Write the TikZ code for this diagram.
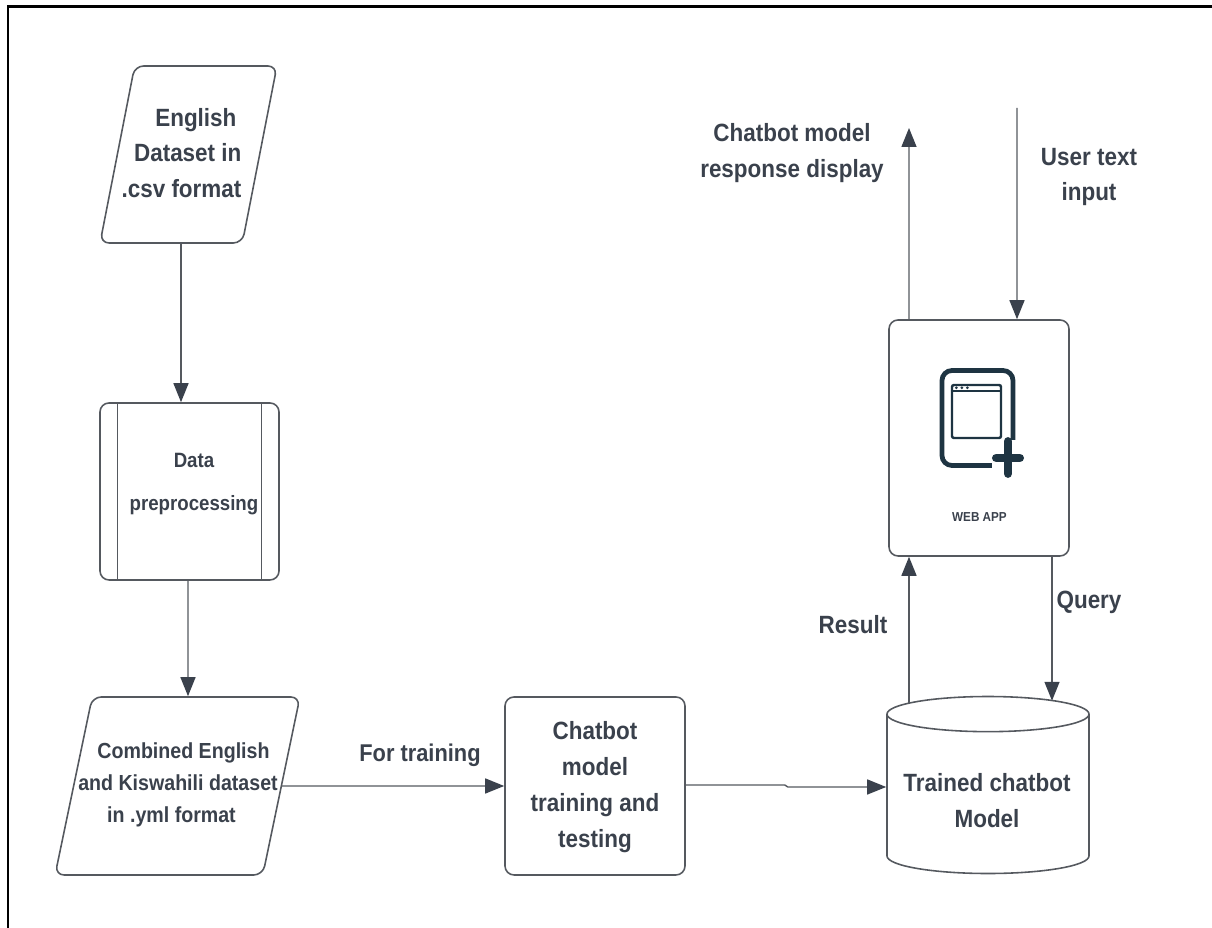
\documentclass[tikz,border=0pt]{standalone}
\usepackage{fontspec}
\setmainfont[FakeStretch=0.9]{Liberation Sans}
\usetikzlibrary{shapes.geometric,arrows.meta}
\definecolor{inkgray}{HTML}{3A414C}
\definecolor{linegray}{HTML}{55595F}
\definecolor{icondark}{HTML}{1E3442}
\tikzset{
  box/.style={draw=linegray, line width=0.45pt, rounded corners=0.09cm, inner sep=1pt},
  dataslant/.style={box, trapezium, trapezium stretches=true},
  lbl/.style={text=inkgray, align=center, inner sep=0pt, font=\bfseries\fontsize{7.1}{10.2}\selectfont},
  flow/.style={draw=linegray, line width=0.4pt, -{Triangle[length=0.19cm,width=0.15cm,color=inkgray]}}
}
\begin{document}
\begin{tikzpicture}[x=1cm,y=1cm]
  \useasboundingbox (0,0) rectangle (12.12,-9.28);
  % Outer frame, left and top only
  \coordinate (framebl) at (0.08,-9.28);
  \coordinate (frametl) at (0.08,-0.07);
  \coordinate (frametr) at (12.12,-0.07);
  \draw[black, line width=0.85pt] (framebl) -- (frametl) -- (frametr);
  % Shapes
  \node[dataslant, trapezium left angle=74, trapezium right angle=106, minimum width=1.77cm, minimum height=1.77cm] (eng) at (1.885,-1.545) {\phantom{x}};
  \node[box, minimum width=1.79cm, minimum height=1.77cm] (prep) at (1.895,-4.915) {};
  \node[dataslant, trapezium left angle=79, trapezium right angle=101, minimum width=2.45cm, minimum height=1.78cm] (comb) at (1.775,-7.86) {\phantom{x}};
  \node[box, minimum width=1.80cm, minimum height=1.78cm] (train) at (5.95,-7.86) {};
  \node[box, rounded corners=0pt, cylinder, shape border rotate=90, aspect=5, minimum width=2.02cm, minimum height=1.77cm] (model) at (9.88,-7.965) {};
  \node[box, minimum width=1.80cm, minimum height=2.36cm] (web) at (9.79,-4.38) {};
  % Inner lines of the preprocessing box
  \draw[draw=linegray, line width=0.4pt] ([xshift=0.18cm]prep.north west) -- ([xshift=0.18cm]prep.south west);
  \draw[draw=linegray, line width=0.4pt] ([xshift=-0.18cm]prep.north east) -- ([xshift=-0.18cm]prep.south east);
  % Icon of the web app
  \node[draw=icondark, line width=1.35pt, rounded corners=0.1cm, minimum width=0.71cm, minimum height=0.95cm, inner sep=0pt] (tablet) at (9.775,-4.18) {};
  \node[draw=icondark, line width=0.7pt, rounded corners=0.02cm, minimum width=0.49cm, minimum height=0.53cm, inner sep=0pt] (window) at (9.765,-4.115) {};
  \draw[draw=icondark, line width=0.6pt] ([yshift=-0.07cm]window.north west) -- ([yshift=-0.07cm]window.north east);
  \foreach \i in {1,2,3}
    \fill[icondark] ([xshift=\i*0.055cm,yshift=-0.04cm]window.north west) circle (0.015cm);
  \node[minimum size=0.38cm, fill=white, inner sep=0pt] (plusbg) at (10.11,-4.59) {};
  \draw[icondark, line width=2.4pt, line cap=round] (9.962,-4.58) -- (10.198,-4.58);
  \draw[icondark, line width=2.4pt, line cap=round] (10.08,-4.413) -- (10.08,-4.737);
  % Free ends of the two top arrows
  \coordinate (respend) at (9.09,-1.28);
  \coordinate (userstart) at (10.17,-1.08);
  % Texts inside the shapes
  \node[lbl, align=right] (engtext) at (1.815,-1.53) {English\hspace*{0.05cm}\\Dataset in\\.csv format};
  \node[lbl, font=\bfseries\fontsize{5.9}{12.2}\selectfont] (preptext) at (1.94,-4.84) {Data\\preprocessing};
  \node[lbl, font=\bfseries\fontsize{6.2}{9.1}\selectfont] (combtext) at (1.78,-7.85) {\hspace*{0.11cm}Combined English\\and Kiswahili dataset\\in .yml format\hspace*{0.13cm}};
  \node[lbl] (traintext) at (5.95,-7.87) {Chatbot\\model\\training and\\testing};
  \node[lbl] (modeltext) at (9.87,-8.01) {Trained chatbot\\Model};
  \node[text=inkgray, inner sep=0pt, font=\bfseries\fontsize{3.7}{4}\selectfont] (webtext) at (9.795,-5.17) {WEB APP};
  % Free labels
  \node[lbl] (resptext) at (7.92,-1.53) {Chatbot model\\response display};
  \node[lbl] (usertext) at (10.89,-1.77) {User text\\input};
  \node[lbl] (resulttext) at (8.53,-6.25) {Result};
  \node[lbl] (querytext) at (10.89,-6.02) {Query};
  \node[lbl, font=\bfseries\fontsize{6.9}{10.2}\selectfont] (fortext) at (4.20,-7.55) {For training};
  % Draw the arrows
  \draw[flow] ([xshift=-0.085cm]prep.north |- eng.south) -- ([xshift=-0.085cm]prep.north);
  \draw[flow] ([xshift=-0.015cm]prep.south) -- ([xshift=0.105cm]comb.north);
  \draw[flow] (comb.east) -- (train.west);
  \draw[flow] ([yshift=0.01cm]train.east) -- ++(0.99,0) -- ++(0.03,-0.02) -- (model.west |- 0,-7.87);
  \draw[flow] ([xshift=-0.70cm]web.north) -- (respend);
  \draw[flow] (userstart) -- ([xshift=0.38cm]web.north);
  \draw[flow] ([xshift=-0.70cm,yshift=-1.47cm]web.south) -- ([xshift=-0.70cm]web.south);
  \draw[flow] ([xshift=0.73cm]web.south) -- ([xshift=0.73cm,yshift=-1.44cm]web.south);
\end{tikzpicture}
\end{document}
